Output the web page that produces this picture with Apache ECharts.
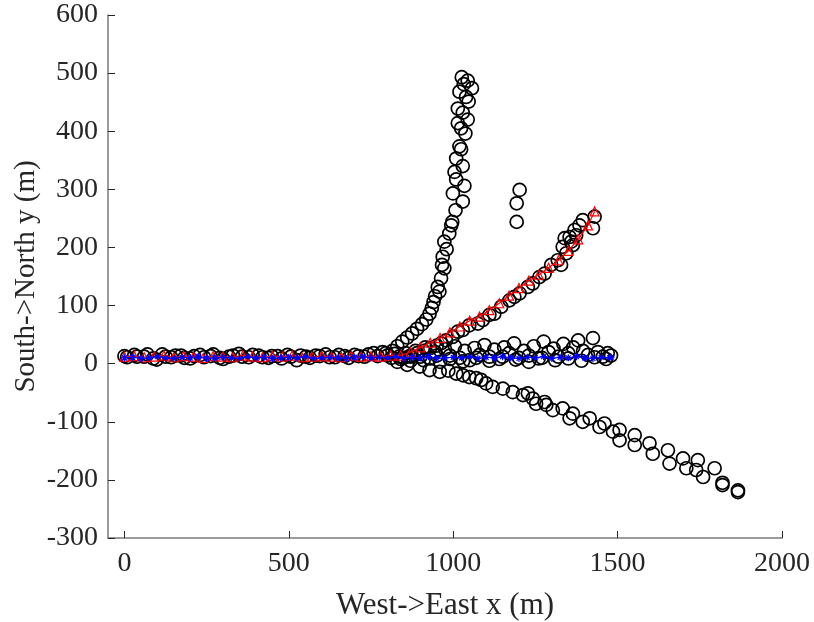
<!DOCTYPE html>
<html>
<head>
<meta charset="utf-8">
<script src="https://cdn.jsdelivr.net/npm/echarts@6/dist/echarts.min.js"></script>
<style>html,body{margin:0;padding:0;background:#fff;}#c{width:814px;height:622px;}</style>
</head>
<body>
<div id="c"></div>
<script>
// ---- axis ticks ----
var xTicks = [0, 500, 1000, 1500, 2000];
var yTicks = [-300, -200, -100, 0, 100, 200, 300, 400, 500, 600];

// ---- observed positions (black circles) ----
var trunkX = [0, 30, 60, 88, 115, 142, 172, 200, 230, 262, 290, 318, 348, 378, 408, 438, 466, 496, 524, 552, 582, 612, 640, 670, 700, 730, 758, 785, 800, 812, 822, 835];
var trunkY = [13, 15, 12, 9, 16, 11, 14, 9, 15, 13, 10, 12, 17, 11, 14, 10, 13, 15, 6, 12, 14, 16, 11, 13, 15, 12, 18, 20, 14, 10, 17, 12];
var trunk2X = [8, 38, 70, 98, 125, 155, 182, 212, 242, 270, 300, 330, 358, 390, 420, 448, 478, 506, 536, 564, 594, 624, 652, 682, 712, 742, 770, 795];
var trunk2Y = [11, 12, 16, 7, 12, 14, 10, 13, 11, 16, 8, 14, 12, 15, 11, 13, 9, 12, 14, 10, 13, 11, 15, 10, 13, 16, 13, 18];

var steepX = [815, 830, 845, 860, 875, 890, 905, 918, 928, 935, 940, 945, 953, 958, 963, 966, 973, 968, 980, 973, 988, 994, 997, 1007, 1029, 999, 1034, 1009, 1004, 1029, 1009, 1024, 1019, 1037, 1024, 1014, 1044, 1029, 1014, 1047, 1039, 1019, 1032, 1057, 1044, 1026];
var steepY = [22, 30, 38, 45, 52, 60, 68, 76, 86, 96, 106, 116, 132, 124, 147, 170, 164, 184, 197, 210, 224, 238, 244, 264, 279, 293, 306, 317, 330, 340, 353, 369, 374, 396, 405, 414, 420, 432, 439, 451, 459, 468, 481, 474, 487, 493];

var branchX = [850, 870, 890, 910, 930, 950, 963, 978, 998, 1014, 1029, 1049, 1075, 1090, 1110, 1125, 1146, 1171, 1186, 1202, 1227, 1242, 1262, 1278, 1298, 1318, 1328, 1333, 1339, 1344, 1354, 1359, 1364, 1369, 1374, 1384, 1394, 1425, 1430];
var branchY = [10, 14, 18, 22, 27, 31, 35, 40, 46, 55, 58, 66, 69, 75, 84, 86, 98, 109, 115, 121, 132, 138, 149, 155, 170, 178, 170, 201, 216, 190, 218, 210, 204, 230, 221, 238, 247, 233, 253];

var flatX = [840, 855, 870, 885, 900, 915, 930, 945, 960, 975, 990, 1005, 1020, 1035, 1050, 1065, 1080, 1095, 1110, 1125, 1140, 1155, 1170, 1185, 1200, 1215, 1230, 1245, 1260, 1275, 1290, 1305, 1320, 1335, 1350, 1365, 1380, 1395, 1410, 1425, 1440, 1455, 1470, 1480,
             870, 910, 950, 990, 1030, 1070, 1110, 1150, 1190, 1230, 1270, 1310, 1350, 1390, 1430, 1465];
var flatY = [8, 18, 5, 22, 12, 28, 9, 20, 3, 25, 14, 30, 10, 22, 6, 27, 15, 32, 12, 24, 8, 28, 18, 35, 10, 22, 14, 30, 9, 38, 20, 26, 12, 34, 18, 28, 40, 22, 15, 44, 20, 12, 18, 14,
             12, 6, 14, 8, 4, 10, 5, 12, 7, 3, 10, 6, 9, 5, 11, 8];

var downX = [830, 860, 898, 928, 959, 985, 1009, 1030, 1049, 1070, 1085, 1100, 1120, 1151, 1181, 1212, 1227, 1242, 1252, 1278, 1283, 1303, 1333, 1354, 1364, 1394, 1415, 1445, 1460, 1486, 1506, 1506, 1552, 1552, 1597, 1607, 1653, 1658, 1699, 1709, 1744, 1739, 1760, 1795, 1819, 1819, 1866, 1866];
var downY = [3, -2, -5, -11, -14, -12, -17, -20, -23, -25, -28, -34, -40, -43, -49, -54, -51, -60, -69, -66, -71, -80, -77, -94, -86, -100, -94, -109, -103, -117, -114, -132, -123, -140, -137, -155, -149, -172, -163, -180, -166, -183, -195, -180, -209, -205, -218, -221];

var isoX = [1193, 1193, 1202];
var isoY = [244, 276, 299];

// ---- red track (triangles) ----
var redX = [0, 30, 60, 90, 120, 150, 180, 210, 240, 270, 300, 330, 360, 390, 420, 450, 480, 510, 540, 570, 600, 630, 660, 690, 720, 750, 780, 810, 840, 870, 900, 930, 960, 990, 1020, 1050, 1080, 1110, 1140, 1170, 1200, 1230, 1260, 1290, 1320, 1350, 1380, 1410, 1430];
var redY = [12, 13, 11, 12, 14, 11, 13, 12, 10, 13, 12, 11, 14, 12, 11, 13, 12, 14, 11, 12, 13, 12, 11, 14, 12, 13, 12, 14, 14, 20, 28, 36, 44, 54, 64, 74, 81, 92, 104, 117, 130, 143, 153, 165, 178, 194, 214, 238, 262];

// ---- blue track (asterisks) ----
var blueX = [0, 25, 50, 75, 100, 125, 150, 175, 200, 225, 250, 275, 300, 325, 350, 375, 400, 425, 450, 475, 500, 525, 550, 575, 600, 625, 650, 675, 700, 725, 750, 775, 800, 825, 850, 875, 900, 925, 950, 975, 1000, 1025, 1050, 1075, 1100, 1125, 1150, 1175, 1200, 1225, 1250, 1275, 1300, 1325, 1350, 1375, 1400, 1425, 1450, 1475, 1480];
var blueY = [10, 11, 9, 10, 12, 10, 9, 11, 10, 12, 9, 10, 11, 10, 9, 12, 10, 11, 9, 10, 11, 10, 12, 9, 10, 11, 10, 9, 11, 12, 10, 11, 10, 12, 9, 11, 10, 12, 9, 10, 11, 10, 12, 9, 11, 10, 12, 10, 9, 11, 10, 12, 9, 11, 10, 12, 10, 9, 11, 10, 11];

function pairs(xs, ys) { return xs.map(function (x, i) { return [x, ys[i]]; }); }
var obs = [].concat(pairs(trunkX, trunkY), pairs(trunk2X, trunk2Y), pairs(steepX, steepY), pairs(branchX, branchY),
  pairs(flatX, flatY), pairs(downX, downY), pairs(isoX, isoY));

var FONT = 'Liberation Serif';
var AX = '#262626';
var asterisk = 'path://M0,5L10,5M5,0L5,10M1.5,1.5L8.5,8.5M1.5,8.5L8.5,1.5';

var chart = echarts.init(document.getElementById('c'), null, { renderer: 'canvas' });
chart.setOption({
  animation: false,
  backgroundColor: '#fff',
  grid: { left: 108, right: 32, top: 15, bottom: 84, containLabel: false, outerBoundsMode: 'none' },
  xAxis: {
    type: 'value', min: -50, max: 2000,
    name: 'West->East x (m)', nameLocation: 'middle', nameGap: 52, nameMoveOverlap: false,
    nameTextStyle: { fontFamily: FONT, fontSize: 31, color: AX },
    axisLine: { show: true, onZero: false, lineStyle: { color: '#7a7a7a', width: 1.5 } },
    axisTick: { show: true, inside: true, length: 7, customValues: xTicks, lineStyle: { color: AX, width: 1 } },
    axisLabel: { customValues: xTicks, formatter: function (v) { return String(v); }, fontFamily: FONT, fontSize: 28, color: AX, margin: 12 },
    splitLine: { show: false }
  },
  yAxis: {
    type: 'value', min: -300, max: 600, interval: 100,
    name: 'South->North y (m)', nameLocation: 'middle', nameGap: 67, nameRotate: 90, nameMoveOverlap: false,
    nameTextStyle: { fontFamily: FONT, fontSize: 29, color: AX },
    axisLine: { show: true, onZero: false, lineStyle: { color: '#7a7a7a', width: 1.5 } },
    axisTick: { show: true, inside: true, length: 7, lineStyle: { color: AX, width: 1 } },
    axisLabel: { formatter: function (v) { return String(v); }, fontFamily: FONT, fontSize: 28, color: AX, margin: 10 },
    splitLine: { show: false }
  },
  series: [
    {
      type: 'scatter', data: obs, symbol: 'circle', symbolSize: 13,
      itemStyle: { color: 'rgba(0,0,0,0)', borderColor: '#000', borderWidth: 1.7, opacity: 1 },
      z: 2
    },
    {
      type: 'line', data: pairs(redX, redY), symbol: 'triangle', symbolSize: 9,
      lineStyle: { color: '#ff0000', width: 1.2 },
      itemStyle: { color: 'rgba(0,0,0,0)', borderColor: '#ff0000', borderWidth: 1.2 },
      z: 3
    },
    {
      type: 'line', data: pairs(blueX, blueY), symbol: asterisk, symbolSize: 7,
      lineStyle: { color: '#0000ff', width: 1.2 },
      itemStyle: { color: 'rgba(0,0,0,0)', borderColor: '#0000ff', borderWidth: 1.2 },
      z: 4
    }
  ]
});
</script>
</body>
</html>
